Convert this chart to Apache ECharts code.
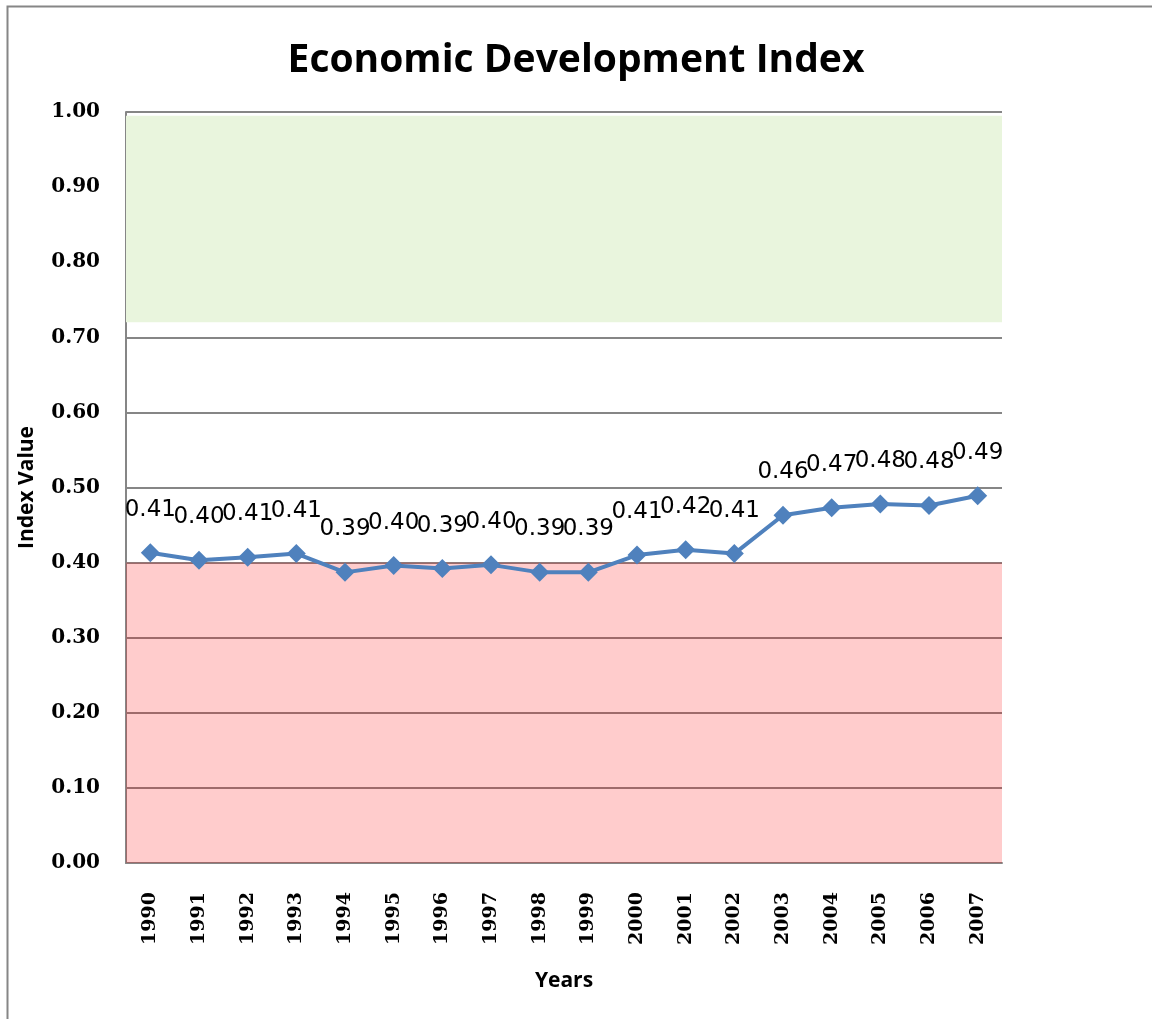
<!DOCTYPE html>
<html>
<head>
<meta charset="utf-8">
<script src="https://cdn.jsdelivr.net/npm/echarts@6/dist/echarts.min.js"></script>
<style>
  html, body { margin: 0; padding: 0; background: #fff; }
  #main { width: 1152px; height: 1019px; }
</style>
</head>
<body>
<div id="main"></div>
<script>
var years = ['1990','1991','1992','1993','1994','1995','1996','1997','1998','1999',
             '2000','2001','2002','2003','2004','2005','2006','2007'];
var indexValues = [0.413, 0.403, 0.407, 0.412, 0.387, 0.396, 0.392, 0.397, 0.387, 0.387,
                   0.410, 0.417, 0.412, 0.463, 0.473, 0.478, 0.476, 0.489];
var lowBand = [0, 0.40];
var highBand = [0.72, 0.995];

var chart = echarts.init(document.getElementById('main'));
chart.setOption({
    animation: false,
    title: {
        text: 'Economic Development Index',
        left: 'center',
        top: 36,
        textStyle: { fontFamily: 'Open Sans', fontWeight: 'bold', fontSize: 39, color: '#000' }
    },
    graphic: [{
        type: 'rect',
        shape: { x: 7.5, y: 6.5, width: 1200, height: 1100 },
        style: { fill: 'none', stroke: '#868686', lineWidth: 2 },
        silent: true
    }],
    grid: { left: 126, right: 150, top: 112, bottom: 156 },
    xAxis: {
        type: 'category',
        data: years,
        name: 'Years',
        nameLocation: 'middle',
        nameGap: 108,
        nameTextStyle: { fontFamily: 'Open Sans', fontWeight: 'bold', fontSize: 21, color: '#000' },
        axisLine: { lineStyle: { color: '#868686', width: 2 } },
        axisTick: { show: false },
        axisLabel: {
            rotate: 90, margin: 29, interval: 0,
            fontFamily: 'DejaVu Serif', fontWeight: 'bold', fontSize: 19, color: '#000'
        }
    },
    yAxis: {
        type: 'value',
        min: 0, max: 1, interval: 0.1,
        name: 'Index Value',
        nameLocation: 'middle',
        nameGap: 88,
        nameTextStyle: { fontFamily: 'Open Sans', fontWeight: 'bold', fontSize: 21, color: '#000' },
        axisLine: { show: true, lineStyle: { color: '#868686', width: 2 } },
        axisTick: { show: false },
        axisLabel: {
            margin: 26,
            formatter: function (v) { return v.toFixed(2); },
            fontFamily: 'DejaVu Serif', fontWeight: 'bold', fontSize: 20, color: '#000'
        },
        splitLine: { lineStyle: { color: '#868686', width: 2 } }
    },
    series: [{
        type: 'line',
        data: [],
        z: 1,
        markArea: {
            silent: true,
            itemStyle: { color: '#E9F5DD' },
            data: [[{ yAxis: highBand[0] }, { yAxis: highBand[1] }]]
        }
    }, {
        type: 'line',
        data: indexValues,
        z: 3,
        symbol: 'diamond',
        symbolSize: 19,
        lineStyle: { color: '#4F81BD', width: 4 },
        itemStyle: { color: '#4F81BD' },
        label: {
            show: true,
            position: 'top',
            distance: 22,
            formatter: function (p) { return p.value.toFixed(2); },
            fontFamily: 'DejaVu Sans', fontSize: 23, color: '#000'
        }
    }, {
        type: 'line',
        data: [],
        z: 5,
        markArea: {
            silent: true,
            itemStyle: { color: 'rgba(255,0,0,0.2)' },
            data: [[{ yAxis: lowBand[0] }, { yAxis: lowBand[1] }]]
        }
    }]
});
</script>
</body>
</html>
